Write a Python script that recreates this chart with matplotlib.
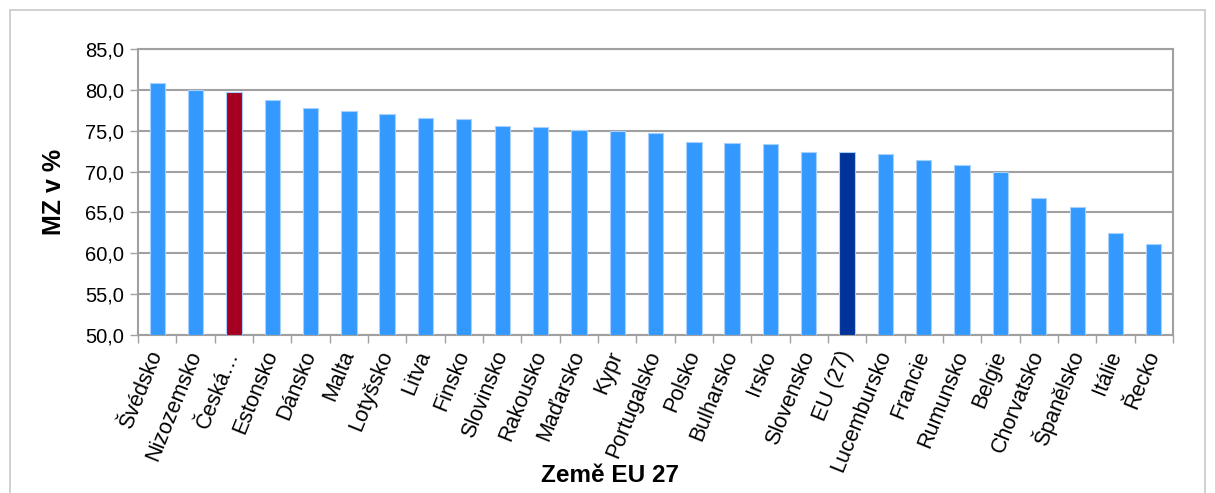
import numpy as np
import matplotlib
matplotlib.use("Agg")
import matplotlib.pyplot as plt
from matplotlib.patches import Rectangle

plt.rcParams["font.family"] = ["Liberation Sans", "DejaVu Sans"]

# Data
countries = ["Švédsko", "Nizozemsko", "Česká…", "Estonsko", "Dánsko", "Malta",
             "Lotyšsko", "Litva", "Finsko", "Slovinsko", "Rakousko", "Maďarsko",
             "Kypr", "Portugalsko", "Polsko", "Bulharsko", "Irsko", "Slovensko",
             "EU (27)", "Lucembursko", "Francie", "Rumunsko", "Belgie",
             "Chorvatsko", "Španělsko", "Itálie", "Řecko"]
values = [80.8, 80.0, 79.7, 78.8, 77.8, 77.4, 77.0, 76.6, 76.4, 75.6, 75.5,
          75.1, 75.0, 74.7, 73.6, 73.5, 73.4, 72.4, 72.4, 72.2, 71.4, 70.8,
          70.0, 66.8, 65.7, 62.5, 61.1]
highlight_cz = "Česká…"
highlight_eu = "EU (27)"
y_ticks = [50, 55, 60, 65, 70, 75, 80, 85]

BLUE = "#3399FF"
RED = "#A50021"
NAVY = "#003399"
GRID = "#A0A0A0"

colors = []
for c in countries:
    if c == highlight_cz:
        colors.append(RED)
    elif c == highlight_eu:
        colors.append(NAVY)
    else:
        colors.append(BLUE)

fig = plt.figure(figsize=(12.15, 4.93), dpi=100)
ax = fig.add_axes([138 / 1215, 1 - 335 / 493, (1173 - 138) / 1215, (335 - 49) / 493])

# outer chart border (bottom is cut off in the reference)
fig.patches.append(Rectangle((10 / 1215, -0.1), 1195 / 1215, 1.1 - 10 / 493,
                             transform=fig.transFigure, fill=False,
                             edgecolor="#C8C8C8", linewidth=1.2))

x = np.arange(len(countries))
ax.bar(x, np.array(values) - 50, bottom=50, width=0.4, color=colors,
       edgecolor="#A8D0FF", linewidth=0.8, zorder=3)

ax.set_xlim(-0.5, len(countries) - 0.5)
ax.set_ylim(50, 85)
ax.set_yticks(y_ticks)
ax.set_yticklabels([f"{v:.1f}".replace(".", ",") for v in y_ticks], fontsize=14.5)
ax.yaxis.grid(True, color=GRID, linewidth=1.5, zorder=0)
ax.tick_params(axis="y", length=6, width=1, color=GRID, direction="out", pad=4)

# category labels at bar centres, tick marks between categories
ax.set_xticks(x)
ax.set_xticklabels(countries, rotation=68, ha="right", va="center",
                   rotation_mode="anchor", fontsize=15.5)
ax.tick_params(axis="x", length=0, pad=12)
ax.set_xticks(np.arange(len(countries) + 1) - 0.5, minor=True)
ax.tick_params(axis="x", which="minor", length=6, width=1, color=GRID,
               direction="out")

for s in ax.spines.values():
    s.set_color(GRID)
    s.set_linewidth(1.5)

ax.set_ylabel("MZ v %", fontsize=18, fontweight="bold", labelpad=14)
fig.text(610 / 1215, 1 - 476 / 493, "Země EU 27", fontsize=17.5, fontweight="bold",
         ha="center", va="center")

plt.savefig("out.png", dpi=100)
